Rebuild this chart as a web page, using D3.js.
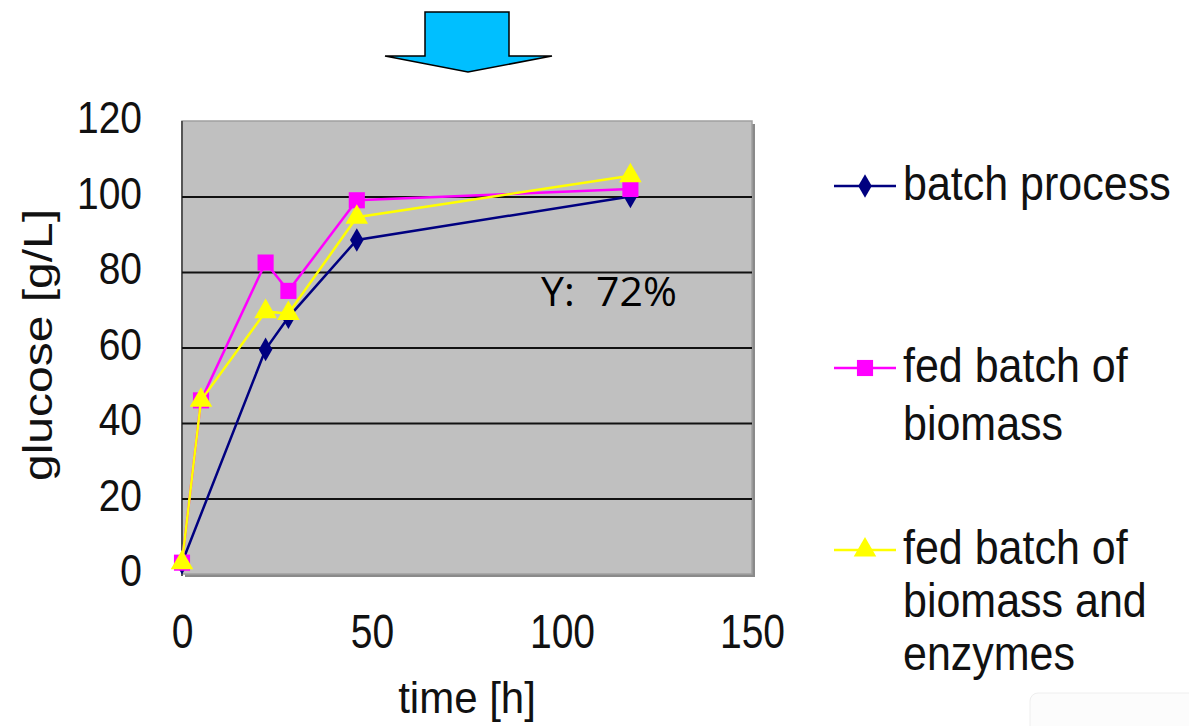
<!DOCTYPE html>
<html>
<head>
<meta charset="utf-8">
<script src="https://cdn.jsdelivr.net/npm/d3@7"></script>
<style>
    body { margin: 0; background: #fff; }
    svg { display: block; font-family: "Liberation Sans", Arial, sans-serif; }
    .axis .domain { display: none; }
    .axis text { fill: #111; font-size: 39px; }
    .grid line { stroke: #111; stroke-width: 1.8; }
    .grid .domain { display: none; }
</style>
</head>
<body>
<div id="chart"></div>
<script>
const width = 1189;
const height = 726;

// data
const times = [0, 5, 22, 28, 46, 118];
const fedBiomass = [3, 46, 82.5, 75, 99, 102];
const fedBiomassEnzymes = [3, 46, 69.5, 69, 94.5, 105.5];
const batchTimes = [0, 22, 28, 46, 118];
const batchValues = [3, 59.5, 68, 88.5, 100];
const seriesNames = ["batch process", "fed batch of biomass", "fed batch of biomass and enzymes"];
const xTicks = [0, 50, 100, 150];
const yTicks = [0, 20, 40, 60, 80, 100, 120];
const gridTicks = [20, 40, 60, 80, 100];

const series = [
    { name: seriesNames[0], xs: batchTimes, ys: batchValues, color: "#000080", shape: d3.symbolDiamond, size: 160,
      lines: ["batch process"] },
    { name: seriesNames[1], xs: times, ys: fedBiomass, color: "#ff00ff", shape: d3.symbolSquare, size: 260,
      lines: ["fed batch of", "biomass"] },
    { name: seriesNames[2], xs: times, ys: fedBiomassEnzymes, color: "#ffff00", shape: d3.symbolTriangle, size: 220,
      lines: ["fed batch of", "biomass and", "enzymes"] }
];

const svg = d3.select("#chart")
    .append("svg")
    .attr("width", width)
    .attr("height", height)
    .attr("viewBox", `0 0 ${width} ${height}`);

// scales
const xScale = d3.scaleLinear().domain([0, 150]).range([182, 752]);
const yScale = d3.scaleLinear().domain([0, 120]).range([574, 121]);

// arrow at the top
svg.append("path")
    .attr("d", "M425,12 L509,12 L509,56 L552,56 L468,72 L385,56 L425,56 Z")
    .attr("fill", "#00bfff")
    .attr("stroke", "#000")
    .attr("stroke-width", 1.5);

// plot area with shadow
svg.append("rect")
    .attr("x", xScale(0) + 3)
    .attr("y", yScale(120) + 3)
    .attr("width", xScale(150) - xScale(0))
    .attr("height", yScale(0) - yScale(120))
    .attr("fill", "#8a8a8a");

svg.append("rect")
    .attr("x", xScale(0))
    .attr("y", yScale(120))
    .attr("width", xScale(150) - xScale(0))
    .attr("height", yScale(0) - yScale(120))
    .attr("fill", "#c0c0c0")
    .attr("stroke", "#a0a0a0")
    .attr("stroke-width", 1.5);

svg.append("line")
    .attr("x1", xScale(0)).attr("x2", xScale(0))
    .attr("y1", yScale(120)).attr("y2", yScale(0) + 2)
    .attr("stroke", "#555").attr("stroke-width", 2);

// gridlines
svg.append("g")
    .attr("class", "grid")
    .attr("transform", `translate(${xScale(0)},0)`)
    .call(d3.axisLeft(yScale).tickValues(gridTicks).tickSize(-(xScale(150) - xScale(0))).tickFormat(""));

// y-axis labels
svg.append("g")
    .attr("class", "axis")
    .attr("transform", `translate(${xScale(0) - 40},-2)`)
    .call(d3.axisLeft(yScale).tickValues(yTicks).tickSize(0).tickPadding(0))
    .selectAll("text")
    .attr("transform", "scale(1,1.12)");

// x-axis labels
svg.append("g")
    .attr("class", "axis")
    .attr("transform", `translate(0,${yScale(0) + 40})`)
    .call(d3.axisBottom(xScale).tickValues(xTicks).tickSize(0).tickPadding(0))
    .selectAll("text")
    .attr("transform", "scale(1,1.22)");

// lines and markers
const line = d3.line()
    .x(d => xScale(d[0]))
    .y(d => yScale(d[1]));

series.forEach(s => {
    const pts = s.xs.map((x, i) => [x, s.ys[i]]);
    svg.append("path")
        .datum(pts)
        .attr("fill", "none")
        .attr("stroke", s.color)
        .attr("stroke-width", 2.5)
        .attr("d", line);
    svg.append("g").selectAll("path")
        .data(pts)
        .join("path")
        .attr("transform", d => `translate(${xScale(d[0])},${yScale(d[1])})`)
        .attr("d", d3.symbol().type(s.shape).size(s.size))
        .attr("fill", s.color);
});

// annotation
svg.append("text")
    .attr("x", 541)
    .attr("y", 306)
    .attr("font-family", "'Open Sans', 'Noto Sans', sans-serif")
    .attr("font-size", "41px")
    .attr("fill", "#000")
    .attr("xml:space", "preserve")
    .text("Y:  72%");

// x label
svg.append("text")
    .attr("transform", "translate(467,713) scale(1,1.05)")
    .attr("text-anchor", "middle")
    .attr("font-size", "42px")
    .attr("fill", "#111")
    .text("time [h]");

// y label
svg.append("text")
    .attr("transform", "translate(52,345) rotate(-90) scale(1.2,1)")
    .attr("text-anchor", "middle")
    .attr("font-size", "40px")
    .attr("fill", "#111")
    .text("glucose [g/L]");

// legend
const legendY = [186, 368, 550];
const lineGap = [0, 58, 53];
const legend = svg.append("g");

series.forEach((s, i) => {
    const g = legend.append("g").attr("transform", `translate(834,${legendY[i]})`);
    g.append("line")
        .attr("x1", 0).attr("x2", 62)
        .attr("stroke", s.color)
        .attr("stroke-width", 2.5);
    g.append("path")
        .attr("transform", "translate(31,0)")
        .attr("d", d3.symbol().type(s.shape).size(s.size))
        .attr("fill", s.color);
    g.selectAll("text")
        .data(s.lines)
        .join("text")
        .attr("transform", (d, j) => `translate(69,${14 + j * lineGap[i]}) scale(1,1.1)`)
        .attr("font-size", "43px")
        .attr("fill", "#111")
        .text(d => d);
});

// faint box in the corner
svg.append("rect")
    .attr("x", 1030).attr("y", 693)
    .attr("width", 170).attr("height", 60)
    .attr("rx", 8)
    .attr("fill", "#fcfcfc")
    .attr("stroke", "#eeeeee");
</script>
</body>
</html>
